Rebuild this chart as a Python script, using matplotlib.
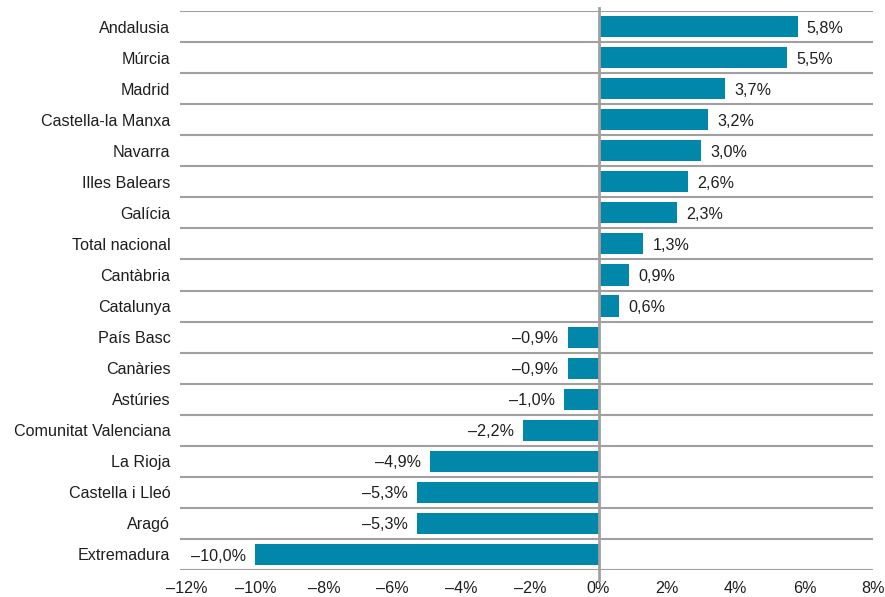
import matplotlib
matplotlib.use("Agg")
import matplotlib.pyplot as plt

plt.rcParams['font.family'] = ['Liberation Sans', 'DejaVu Sans']

regions = ["Andalusia", "Múrcia", "Madrid", "Castella-la Manxa", "Navarra",
           "Illes Balears", "Galícia", "Total nacional", "Cantàbria", "Catalunya",
           "País Basc", "Canàries", "Astúries", "Comunitat Valenciana", "La Rioja",
           "Castella i Lleó", "Aragó", "Extremadura"]
values = [5.8, 5.5, 3.7, 3.2, 3.0, 2.6, 2.3, 1.3, 0.9, 0.6,
          -0.9, -0.9, -1.0, -2.2, -4.9, -5.3, -5.3, -10.0]
xticks = [-12, -10, -8, -6, -4, -2, 0, 2, 4, 6, 8]

bar_color = "#0087a9"
grid_color = "#a0a0a0"
text_color = "#1e1e1e"
fs = 11.6


def fmt(v, decimals=1):
    s = f"{abs(v):.{decimals}f}".replace(".", ",") + "%"
    return ("\u2013" + s) if v < 0 else s


fig = plt.figure(figsize=(8.85, 5.97), dpi=100)
ax = fig.add_axes([180 / 885, 27 / 597, 693 / 885, 559 / 597])

ypos = list(range(len(regions)))
ax.barh(ypos, values, height=0.68, color=bar_color, zorder=2)

# horizontal separators between categories
for i in range(len(regions) + 1):
    ax.axhline(i - 0.5, color=grid_color, lw=1.5, zorder=1)
ax.axvline(0, ymin=-0.018, ymax=1.006, color=grid_color, lw=2, zorder=3, clip_on=False)

for y, v in zip(ypos, values):
    if v >= 0:
        ax.text(v + 0.27, y + 0.05, fmt(v), ha="left", va="center",
                fontsize=fs, color=text_color)
    else:
        ax.text(v - 0.27, y + 0.05, fmt(v), ha="right", va="center",
                fontsize=fs, color=text_color)

ax.set_xlim(-12.2, 7.95)
ax.set_ylim(len(regions) - 0.5, -0.5)
ax.set_yticks(ypos)
ax.set_yticklabels(regions, fontsize=fs, color=text_color)
ax.set_xticks(xticks)
ax.set_xticklabels([fmt(t, 0) for t in xticks], fontsize=fs, color=text_color)
ax.tick_params(length=0)
ax.tick_params(axis="y", pad=7)
ax.tick_params(axis="x", pad=8)
for s in ax.spines.values():
    s.set_visible(False)

fig.savefig("out.png", dpi=100)
